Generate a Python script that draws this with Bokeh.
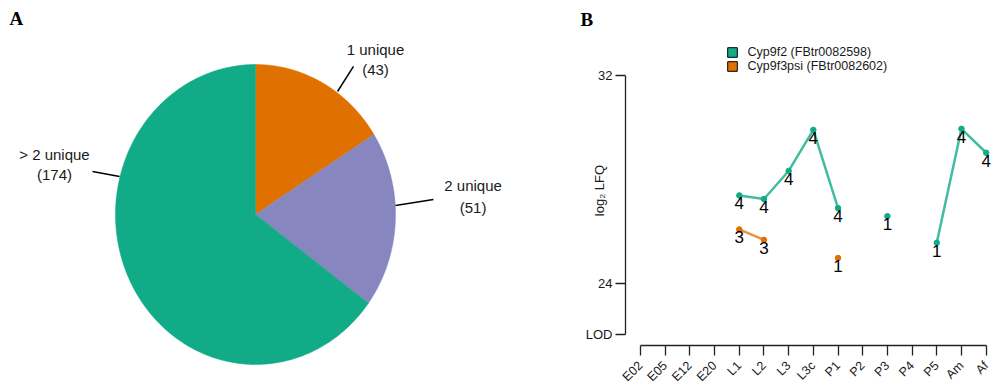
import math
import numpy as np
from bokeh.plotting import figure
from bokeh.layouts import row
from bokeh.models import (ColumnDataSource, Label, Legend, LegendItem, FixedTicker, Range1d, Title)
from bokeh.core.properties import value
from bokeh.embed import file_html
from bokeh.resources import INLINE

# ---------------- Panel A data ----------------
pie_labels = ["1 unique", "2 unique", "> 2 unique"]
pie_counts = [43, 51, 174]
pie_colors = ["#E07000", "#8886BE", "#12AB87"]

# ---------------- Panel B data ----------------
stages = ["E02", "E05", "E12", "E20", "L1", "L2", "L3", "L3c", "P1", "P2", "P3", "P4", "P5", "Am", "Af"]
nan = float("nan")
cyp9f2_lfq = [nan, nan, nan, nan, 27.37, 27.23, 28.31, 29.89, 26.88, nan, 26.57, nan, 25.55, 29.93, 29.01]
cyp9f2_n = [0, 0, 0, 0, 4, 4, 4, 4, 4, 0, 1, 0, 1, 4, 4]
cyp9f3psi_lfq = [nan, nan, nan, nan, 26.06, 25.66, nan, nan, 24.96, nan, nan, nan, nan, nan, nan]
cyp9f3psi_n = [0, 0, 0, 0, 3, 3, 0, 0, 1, 0, 0, 0, 0, 0, 0]
y_ticks = [22, 24, 32]
y_tick_labels = ["LOD", "24", "32"]
series_names = ["Cyp9f2 (FBtr0082598)", "Cyp9f3psi (FBtr0082602)"]
series_colors = ["#12AB87", "#E07000"]

FONT = "Liberation Sans"
TXT = "#1a1a1a"
BOTTOM = 47
TITLE_STANDOFF = 12
TITLE_H = 34

# ================= Panel A: pie =================
p1 = figure(width=560, height=392, x_range=Range1d(-1.8214, 2.1786), y_range=Range1d(-1.1867, 1.4267),
            output_backend="svg", toolbar_location=None, min_border=0,
            x_axis_location=None, y_axis_location=None)
p1.frame_align = False
p1.grid.visible = False
p1.outline_line_color = None

total = float(sum(pie_counts))
fr = np.cumsum([0] + pie_counts) / total
xs, ys = [], []
for i in range(len(pie_counts)):
    t = np.linspace(fr[i], fr[i + 1], 240) * 2 * np.pi
    xs.append([0.0] + list(np.sin(t)) + [0.0])
    ys.append([0.0] + list(np.cos(t)) + [0.0])
p1.patches(xs=xs, ys=ys, fill_color=pie_colors, line_color=pie_colors, line_width=0.5)

# label layout (normalised pie coordinates)
lab_x = [0.857, 1.554, -1.436]
lab_y1 = [1.100, 0.193, 0.400]
lab_y2 = [0.967, 0.047, 0.267]
lead_x0 = [0.586, 1.000, -1.164]
lead_y0 = [0.820, 0.060, 0.287]
lead_x1 = [0.700, 1.271, -0.971]
lead_y1 = [0.987, 0.100, 0.253]
p1.segment(x0=lead_x0, y0=lead_y0, x1=lead_x1, y1=lead_y1, line_color="black", line_width=1.5)
p1.text(x=lab_x, y=lab_y1, text=pie_labels, text_font=value(FONT), text_font_size="15px",
        text_align="center", text_baseline="middle", text_color=TXT)
p1.text(x=lab_x, y=lab_y2, text=["(%d)" % c for c in pie_counts], text_font=value(FONT),
        text_font_size="15px", text_align="center", text_baseline="middle", text_color=TXT)

p1.add_layout(Label(x=-1.757, y=1.3067, text="A",
                    text_font="Liberation Serif", text_font_style="bold", text_font_size="19px",
                    text_color="black", text_baseline="alphabetic"))

# ================= Panel B: line chart =================
y_top = 24 + (282.3 - TITLE_H) / 26.08
p2 = figure(width=435, height=392, x_range=Range1d(-0.6075, 14.378), y_range=Range1d(21.596, y_top),
            output_backend="svg", toolbar_location=None,
            min_border_left=65, min_border_right=0, min_border_top=0, min_border_bottom=BOTTOM)
p2.frame_align = False
p2.grid.visible = False
p2.outline_line_color = None
p2.title = Title(text="B", align="left", offset=-45, standoff=TITLE_STANDOFF,
                 text_font="Liberation Serif", text_font_style="bold", text_font_size="19px",
                 text_color="black")

xa = p2.xaxis[0]
xa.ticker = FixedTicker(ticks=list(range(len(stages))))
xa.major_label_overrides = {i: s for i, s in enumerate(stages)}
xa.bounds = (0, len(stages) - 1)
xa.major_label_orientation = math.pi / 4
xa.major_tick_out = 10
xa.major_tick_in = 0
xa.minor_tick_out = 0
xa.minor_tick_in = 0
xa.major_label_standoff = 8
xa.major_label_text_font = FONT
xa.major_label_text_font_size = "12.5px"
xa.major_label_text_color = TXT
xa.axis_line_width = 1.3
xa.major_tick_line_width = 1.3
xa.axis_line_color = "#222222"
xa.major_tick_line_color = "#222222"

ya = p2.yaxis[0]
ya.ticker = FixedTicker(ticks=y_ticks)
ya.major_label_overrides = {t: s for t, s in zip(y_ticks, y_tick_labels)}
ya.bounds = (min(y_ticks), max(y_ticks))
ya.major_tick_out = 10
ya.major_tick_in = 0
ya.minor_tick_out = 0
ya.minor_tick_in = 0
ya.major_label_standoff = 3
ya.major_label_text_font = FONT
ya.major_label_text_font_size = "13px"
ya.major_label_text_color = TXT
ya.axis_line_width = 1.3
ya.major_tick_line_width = 1.3
ya.axis_line_color = "#222222"
ya.major_tick_line_color = "#222222"
ya.axis_label = "log\u2082 LFQ"
ya.axis_label_standoff = -24
ya.axis_label_text_font = FONT
ya.axis_label_text_font_style = "normal"
ya.axis_label_text_font_size = "13px"
ya.axis_label_text_color = TXT

xpos = list(range(len(stages)))
legend_items = []
for vals, counts, name, col, lalpha in [(cyp9f2_lfq, cyp9f2_n, series_names[0], series_colors[0], 0.8),
                                        (cyp9f3psi_lfq, cyp9f3psi_n, series_names[1], series_colors[1], 0.75)]:
    p2.line(x=xpos, y=vals, line_color=col, line_width=2.5, line_alpha=lalpha)
    px = [x for x, v in zip(xpos, vals) if not math.isnan(v)]
    py = [v for v in vals if not math.isnan(v)]
    pn = [str(n) for v, n in zip(vals, counts) if not math.isnan(v)]
    src = ColumnDataSource(dict(x=px, y=py, n=pn))
    p2.scatter(x="x", y="y", source=src, size=5.5, fill_color=col, line_color=col)
    p2.text(x="x", y="y", text="n", source=src, text_font=value(FONT), text_font_size="17px",
            text_align="center", text_baseline="top", y_offset=2, text_color="black")
    r = p2.quad(left=[nan], right=[nan], top=[nan], bottom=[nan], fill_color=col,
                line_color="black", line_width=1)
    legend_items.append(LegendItem(label=name, renderers=[r]))

legend = Legend(items=legend_items, location=(100.5, 271.8), orientation="vertical",
                glyph_width=12, glyph_height=12, label_height=12, spacing=0, padding=0, margin=0,
                label_standoff=10, label_text_font=FONT, label_text_font_size="12.5px",
                label_text_color=TXT, label_text_baseline="middle",
                border_line_color=None, background_fill_alpha=0)
p2.add_layout(legend, "center")

layout = row(p1, p2)
open("out.html", "w").write(file_html(layout, INLINE))
